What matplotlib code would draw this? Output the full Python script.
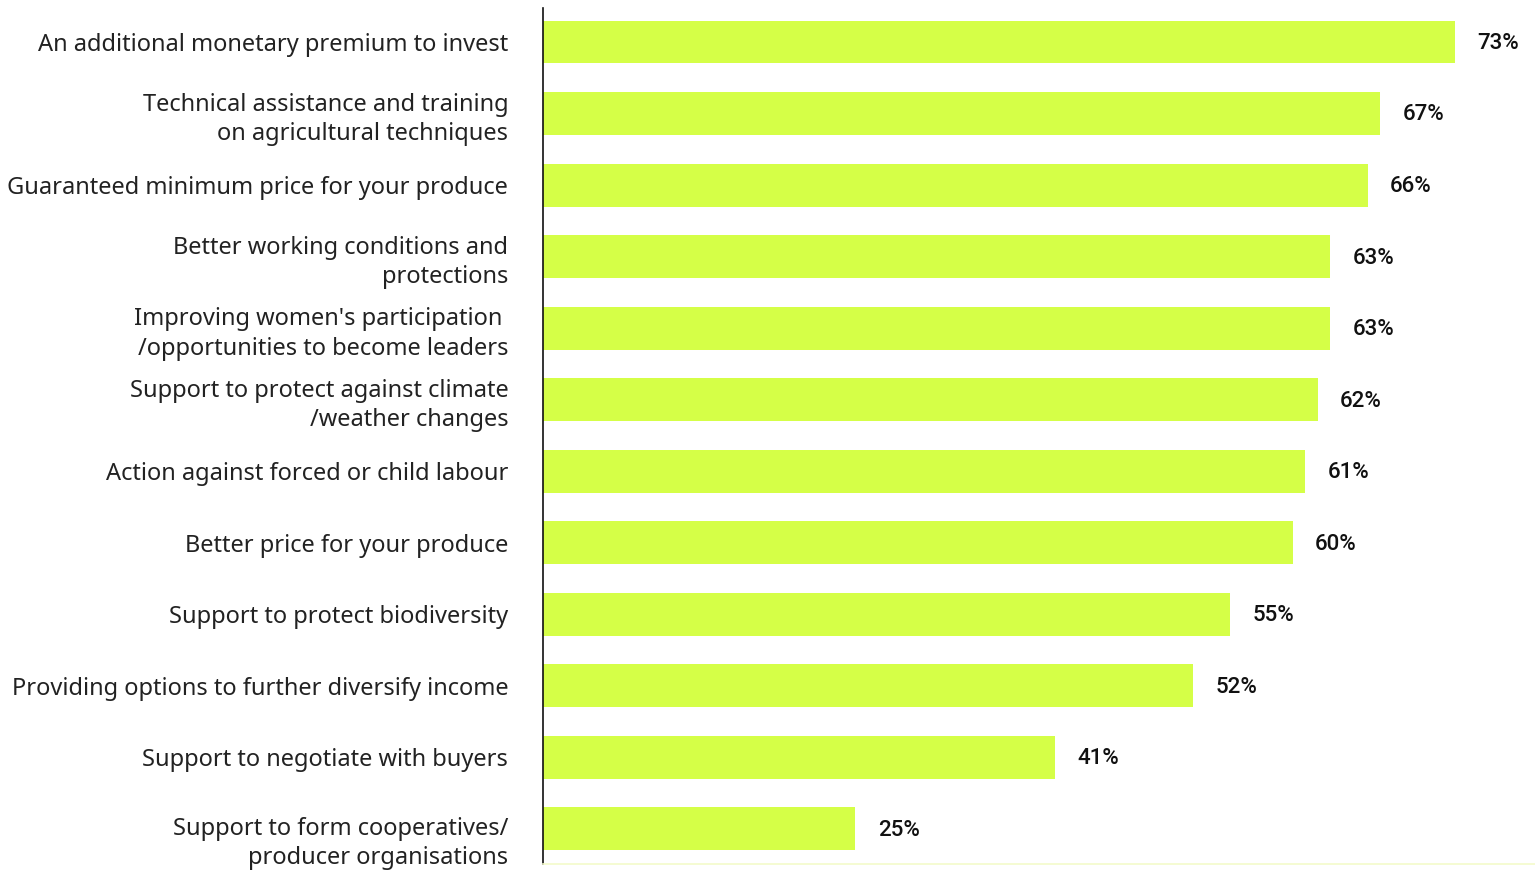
import matplotlib
matplotlib.use("Agg")
import matplotlib.pyplot as plt
from matplotlib.transforms import ScaledTranslation

categories = [
    "An additional monetary premium to invest",
    "Technical assistance and training\non agricultural techniques",
    "Guaranteed minimum price for your produce",
    "Better working conditions and\nprotections",
    "Improving women's participation \n/opportunities to become leaders",
    "Support to protect against climate\n/weather changes",
    "Action against forced or child labour",
    "Better price for your produce",
    "Support to protect biodiversity",
    "Providing options to further diversify income",
    "Support to negotiate with buyers",
    "Support to form cooperatives/\nproducer organisations",
]
values = [73, 67, 66, 63, 63, 62, 61, 60, 55, 52, 41, 25]

BAR_COLOR = "#D5FF47"

fig = plt.figure(figsize=(15.35, 8.72), dpi=100)
ax = fig.add_axes([543 / 1535, 8 / 872, 1 - 543 / 1535, 856 / 872])

pos = list(range(len(categories)))
ax.barh(pos, values, height=0.6, color=BAR_COLOR)
ax.set_xlim(0, 79.4)
ax.set_ylim(11.49, -0.475)

for y, v in zip(pos, values):
    ax.text(v + 1.8, y + 0.02, f"{v}%", va="center", ha="left",
            fontsize=16, color="#111111", family="Roboto", fontweight="medium")

ax.set_yticks(pos)
ax.set_yticklabels(categories, fontsize=17, family="Noto Sans", fontweight="normal",
                   color="#222222", linespacing=1.3)
ax.tick_params(axis="y", length=0, pad=25)
ax.tick_params(axis="x", bottom=False, labelbottom=False)
for lab in ax.get_yticklabels():
    lab.set_horizontalalignment("right")

# the last two-line label hangs a little below its bar
last = ax.get_yticklabels()[-1]
last.set_transform(last.get_transform() + ScaledTranslation(0, -9 / 100, fig.dpi_scale_trans))

for s in ("top", "right"):
    ax.spines[s].set_visible(False)
ax.spines["left"].set_color("#111111")
ax.spines["left"].set_linewidth(1.2)
ax.spines["bottom"].set_color("#F4FBCB")
ax.spines["bottom"].set_linewidth(1.2)

fig.savefig("out.png", dpi=100)
